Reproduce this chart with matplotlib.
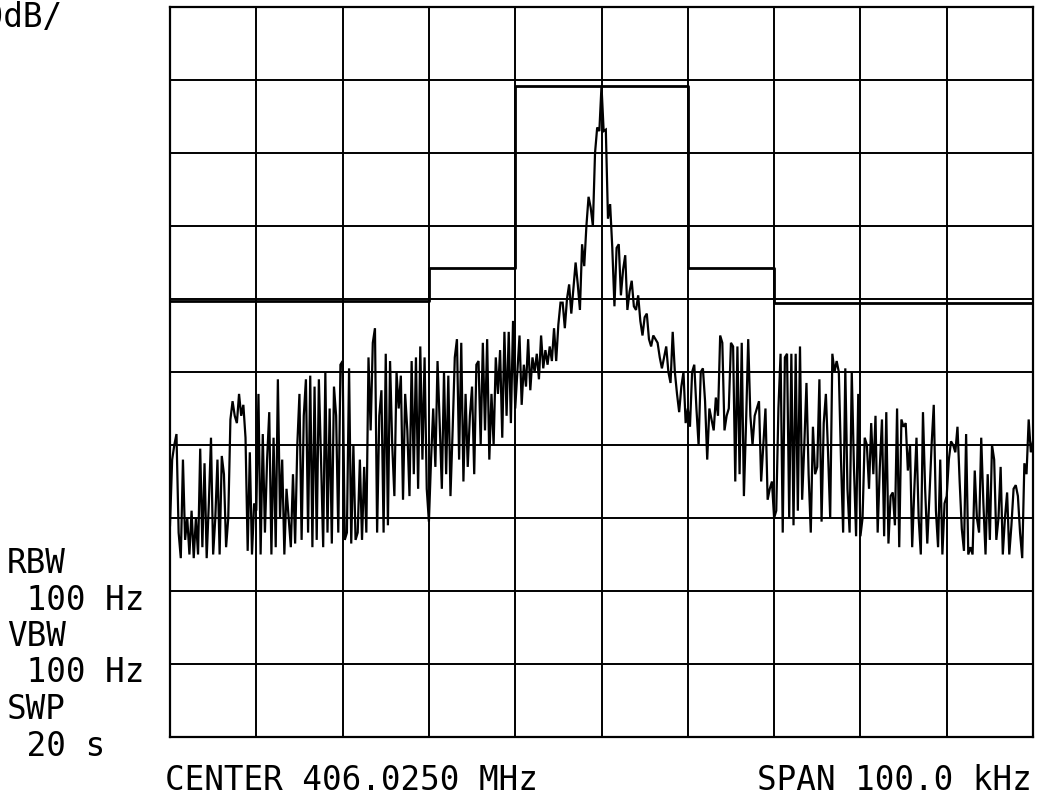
import numpy as np
import matplotlib
matplotlib.use("Agg")
import matplotlib.pyplot as plt

# sweep: 401 points over the 100 kHz span, offsets from center in kHz
span_khz = 100.0
n_points = 401
ref_db = 0.0
db_per_div = 10

# trace levels in dB, one row per horizontal division (40 points each)
trace_db = [
    # -50 .. -40 kHz
    -71, -62, -60, -58.5, -72, -75.5, -62, -73, -70, -75,
    -69, -75.5, -70, -75, -60.5, -74, -62.5, -75.5, -68, -59,
    -75, -70, -62, -75, -61.5, -64, -74, -70, -56.5, -54,
    -56, -57, -53, -56, -54.5, -59, -74.5, -61, -75, -68,
    # -40 .. -30 kHz
    -69, -53, -75, -58.5, -72, -62, -55.5, -75, -59, -74,
    -51, -70, -62, -75, -66, -70, -74, -64, -73.5, -60,
    -53, -73, -56, -51, -72, -50.5, -74, -52, -73, -51,
    -62, -74, -50, -72, -55, -73.5, -52, -56, -72, -49,
    # -30 .. -20 kHz
    -48.5, -73, -72, -49.5, -73.5, -60, -73, -72, -62, -73,
    -63, -72, -48, -58, -46, -44, -72, -56, -52.5, -72,
    -47.5, -71, -48.5, -60, -67, -50, -55, -50.5, -67.5, -53,
    -58, -67, -48.5, -64, -48, -66, -46.5, -62, -48, -66,
    # -20 .. -10 kHz
    -70.5, -62, -55, -63, -48.5, -57, -66, -50, -64, -50.5,
    -67, -58, -48, -45.5, -62, -46, -65, -53, -63, -56,
    -52, -64, -49, -48.5, -60, -46, -58, -45.5, -62, -53,
    -60, -48, -53, -47, -59, -44.5, -56, -44.5, -57, -43,
    # -10 .. 0 kHz
    -55, -50, -45, -54.5, -49, -52, -45.5, -52.5, -48, -50,
    -47.5, -51, -45, -49.5, -47, -49, -46.5, -48.5, -44, -48.5,
    -43.5, -40.5, -40.5, -44, -40, -38, -42, -38.5, -35, -38,
    -41.5, -32.5, -35.5, -30, -26, -27.5, -30, -20, -16.5, -17,
    # 0 .. 10 kHz
    -10.8, -17, -16.8, -29, -27, -33, -41, -33, -32.5, -39.5,
    -36, -34, -41.5, -39, -37.5, -41, -41.5, -39.5, -43, -45,
    -42.5, -42, -45.5, -46.5, -45, -45.5, -46, -48, -49.5, -48,
    -46.5, -50, -51.5, -44.5, -50, -53, -55.5, -52, -50, -57,
    # 10 .. 20 kHz
    -55, -57.5, -50, -49, -55, -60, -50, -49.5, -54, -62,
    -55, -56.5, -58, -53.5, -56, -45, -46, -58, -56, -55,
    -46, -46.5, -65, -46.5, -64, -46, -67, -57, -45.5, -56,
    -60, -56, -55, -54, -65, -60, -55, -67.5, -66, -65,
    # 20 .. 30 kHz
    -70, -69, -55, -47.5, -72, -48, -47.5, -70, -47.5, -71,
    -47.5, -69, -46.5, -67.5, -60, -51.5, -64, -72, -57.5, -64,
    -63, -51, -70.5, -57, -53, -61, -70, -47.5, -50, -48.5,
    -50, -62, -72, -49.5, -66, -72, -50, -63, -72.5, -53,
    # 30 .. 40 kHz
    -72.5, -70, -59, -60, -66, -57, -64, -56, -72, -63,
    -56.5, -72.5, -55.5, -73.5, -67, -66.5, -71, -55, -74, -56.5,
    -57.5, -57, -63.5, -60, -74, -66, -59, -70, -75, -55.5,
    -66, -73.5, -67, -60, -54.5, -69, -74, -62, -75, -68,
    # 40 .. 50 kHz
    -67, -62, -59.5, -60, -61, -57.5, -65, -71.5, -74.5, -58.5,
    -75, -74, -75, -63.5, -70, -72, -59, -68, -75, -64,
    -73, -60, -62, -73, -70, -63, -75, -70, -66.5, -75,
    -71, -66, -65.5, -67, -72, -75.5, -62.5, -64, -56.5, -61,
    -59.5,
]

# limit line (mask) edges in kHz and levels in dB
mask_edges_khz = [-50, -20, -10, 10, 20, 50]
mask_db = [-40.3, -35.8, -10.8, -35.8, -40.5]

left_labels = ["RBW", " 100 Hz", "VBW", " 100 Hz", "SWP", " 20 s"]
scale_label = "10dB/"
center_label = "CENTER 406.0250 MHz"
span_label = "SPAN 100.0 kHz"

W, H = 1041, 802
fig = plt.figure(figsize=(W / 100, H / 100), dpi=100)
fig.patch.set_facecolor("white")
ax = fig.add_axes([170 / W, 1 - 737 / H, 863 / W, 730 / H])

freq = np.linspace(-span_khz / 2, span_khz / 2, n_points)
ax.plot(freq, trace_db, color="black", lw=1.6, solid_joinstyle="miter")

ax.step(mask_edges_khz, mask_db + [mask_db[-1]], where="post",
        color="black", lw=2.0)

ax.set_xlim(-span_khz / 2, span_khz / 2)
ax.set_ylim(ref_db - 10 * db_per_div, ref_db)
ax.set_xticks(np.linspace(-span_khz / 2, span_khz / 2, 11))
ax.set_yticks(np.arange(ref_db - 10 * db_per_div, ref_db + 1, db_per_div))
ax.grid(True, color="black", lw=1.4)
ax.tick_params(length=0, labelbottom=False, labelleft=False)
for s in ax.spines.values():
    s.set_linewidth(1.6)

font = dict(family="DejaVu Sans Mono", fontsize=23.5, color="black",
            va="baseline", ha="left")

def px(x, y):
    return x / W, 1 - y / H

# the scale label is partly cut off at the left edge, as in the reference
fig.text(*px(-36, 27), scale_label, **font)
for i, lab in enumerate(left_labels):
    fig.text(*px(7, 573 + i * 36.5), lab, **font)
fig.text(*px(165, 790), center_label, **font)
fig.text(*px(757, 790), span_label, **font)

fig.savefig("out.png", dpi=100)
